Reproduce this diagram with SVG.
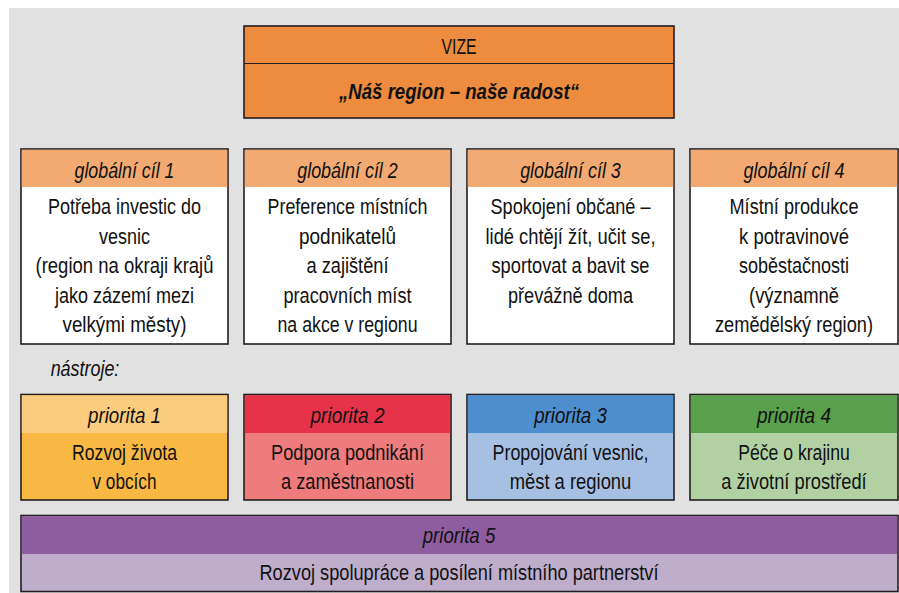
<svg xmlns="http://www.w3.org/2000/svg" width="899" height="593" viewBox="0 0 899 593">
<style>
.box{stroke:#231f20;stroke-width:1.6}
.sep{stroke:#231f20;stroke-width:1.2}
text{font-family:"Liberation Sans",Arial,sans-serif;font-size:22.5px;fill:#111111;text-anchor:middle}
.it{font-style:italic;font-size:22px}
.bi{font-style:italic;font-weight:bold;font-size:22px}
</style>
<rect x="0" y="0" width="899" height="593" fill="#ffffff"/>
<rect x="9" y="8" width="890" height="585" fill="#e1e1e1"/>

<g id="vize">
<rect class="box" x="244" y="26" width="430" height="92" fill="#ed8b3e"/>
<line class="sep" x1="244" y1="63.5" x2="674" y2="63.5"/>
<text x="459" y="54" font-size="24" textLength="35" lengthAdjust="spacingAndGlyphs">VIZE</text>
<text class="bi" x="459" y="99" textLength="240" lengthAdjust="spacingAndGlyphs">„Náš region – naše radost“</text>
</g>

<g id="goal1">
<rect class="box" x="21" y="149" width="207" height="195" fill="#ffffff"/>
<rect x="21.8" y="149.8" width="205.4" height="37.2" fill="#f2aa72"/>
<text class="it" x="124.5" y="178" textLength="100" lengthAdjust="spacingAndGlyphs">globální cíl 1</text>
<text x="124.5" y="214" textLength="153" lengthAdjust="spacingAndGlyphs">Potřeba investic do</text>
<text x="124.5" y="243.5" textLength="51" lengthAdjust="spacingAndGlyphs">vesnic</text>
<text x="124.5" y="273" textLength="178" lengthAdjust="spacingAndGlyphs">(region na okraji krajů</text>
<text x="124.5" y="302.5" textLength="139" lengthAdjust="spacingAndGlyphs">jako zázemí mezi</text>
<text x="124.5" y="332" textLength="124" lengthAdjust="spacingAndGlyphs">velkými městy)</text>
</g>

<g id="goal2">
<rect class="box" x="244" y="149" width="207" height="195" fill="#ffffff"/>
<rect x="244.8" y="149.8" width="205.4" height="37.2" fill="#f2aa72"/>
<text class="it" x="347.5" y="178" textLength="100.6" lengthAdjust="spacingAndGlyphs">globální cíl 2</text>
<text x="347.5" y="214" textLength="160" lengthAdjust="spacingAndGlyphs">Preference místních</text>
<text x="347.5" y="243.5" textLength="97" lengthAdjust="spacingAndGlyphs">podnikatelů</text>
<text x="347.5" y="273" textLength="82" lengthAdjust="spacingAndGlyphs">a zajištění</text>
<text x="347.5" y="302.5" textLength="128" lengthAdjust="spacingAndGlyphs">pracovních míst</text>
<text x="347.5" y="332" textLength="140" lengthAdjust="spacingAndGlyphs">na akce v regionu</text>
</g>

<g id="goal3">
<rect class="box" x="467" y="149" width="207" height="195" fill="#ffffff"/>
<rect x="467.8" y="149.8" width="205.4" height="37.2" fill="#f2aa72"/>
<text class="it" x="570.5" y="178" textLength="100.7" lengthAdjust="spacingAndGlyphs">globální cíl 3</text>
<text x="570.5" y="214" textLength="160" lengthAdjust="spacingAndGlyphs">Spokojení občané –</text>
<text x="570.5" y="243.5" textLength="170" lengthAdjust="spacingAndGlyphs">lidé chtějí žít, učit se,</text>
<text x="570.5" y="273" textLength="158" lengthAdjust="spacingAndGlyphs">sportovat a bavit se</text>
<text x="570.5" y="302.5" textLength="125" lengthAdjust="spacingAndGlyphs">převážně doma</text>
</g>

<g id="goal4">
<rect class="box" x="690" y="149" width="208" height="195" fill="#ffffff"/>
<rect x="690.8" y="149.8" width="206.4" height="37.2" fill="#f2aa72"/>
<text class="it" x="794" y="178" textLength="101" lengthAdjust="spacingAndGlyphs">globální cíl 4</text>
<text x="794" y="214" textLength="129" lengthAdjust="spacingAndGlyphs">Místní produkce</text>
<text x="794" y="243.5" textLength="110" lengthAdjust="spacingAndGlyphs">k potravinové</text>
<text x="794" y="273" textLength="110" lengthAdjust="spacingAndGlyphs">soběstačnosti</text>
<text x="794" y="302.5" textLength="90" lengthAdjust="spacingAndGlyphs">(významně</text>
<text x="794" y="332" textLength="158" lengthAdjust="spacingAndGlyphs">zemědělský region)</text>
</g>

<g id="nastroje">
<text class="it" x="85" y="376" textLength="68.7" lengthAdjust="spacingAndGlyphs">nástroje:</text>
</g>

<g id="priority1">
<rect class="box" x="21" y="394.5" width="207" height="105.5" fill="#f9b843"/>
<rect x="21.8" y="395.3" width="205.4" height="37.7" fill="#fbcb7e"/>
<text class="it" x="124.5" y="423" textLength="73" lengthAdjust="spacingAndGlyphs">priorita 1</text>
<text x="124.5" y="460" textLength="105" lengthAdjust="spacingAndGlyphs">Rozvoj života</text>
<text x="124.5" y="489" textLength="64" lengthAdjust="spacingAndGlyphs">v obcích</text>
</g>

<g id="priority2">
<rect class="box" x="244" y="394.5" width="207" height="105.5" fill="#ef7c7c"/>
<rect x="244.8" y="395.3" width="205.4" height="37.7" fill="#e6334a"/>
<text class="it" x="347.5" y="423" textLength="74" lengthAdjust="spacingAndGlyphs">priorita 2</text>
<text x="347.5" y="460" textLength="153" lengthAdjust="spacingAndGlyphs">Podpora podnikání</text>
<text x="347.5" y="489" textLength="133" lengthAdjust="spacingAndGlyphs">a zaměstnanosti</text>
</g>

<g id="priority3">
<rect class="box" x="467" y="394.5" width="207" height="105.5" fill="#a6c0e4"/>
<rect x="467.8" y="395.3" width="205.4" height="37.7" fill="#4d8ece"/>
<text class="it" x="570.5" y="423" textLength="72.7" lengthAdjust="spacingAndGlyphs">priorita 3</text>
<text x="570.5" y="460" textLength="156" lengthAdjust="spacingAndGlyphs">Propojování vesnic,</text>
<text x="570.5" y="489" textLength="121.7" lengthAdjust="spacingAndGlyphs">měst a regionu</text>
</g>

<g id="priority4">
<rect class="box" x="690" y="394.5" width="208" height="105.5" fill="#b2d1a3"/>
<rect x="690.8" y="395.3" width="206.4" height="37.7" fill="#5a9f4c"/>
<text class="it" x="794" y="423" textLength="74" lengthAdjust="spacingAndGlyphs">priorita 4</text>
<text x="794" y="460" textLength="111.7" lengthAdjust="spacingAndGlyphs">Péče o krajinu</text>
<text x="794" y="489" textLength="145.3" lengthAdjust="spacingAndGlyphs">a životní prostředí</text>
</g>

<g id="priority5">
<rect class="box" x="21" y="515.5" width="877" height="76" fill="#bfadcc"/>
<rect x="21.8" y="516.3" width="875.4" height="37.7" fill="#8e5da0"/>
<text class="it" x="459" y="543" textLength="72.6" lengthAdjust="spacingAndGlyphs">priorita 5</text>
<text x="459" y="580" textLength="399" lengthAdjust="spacingAndGlyphs">Rozvoj spolupráce a posílení místního partnerství</text>
</g>

<g id="connectors"/>
</svg>
